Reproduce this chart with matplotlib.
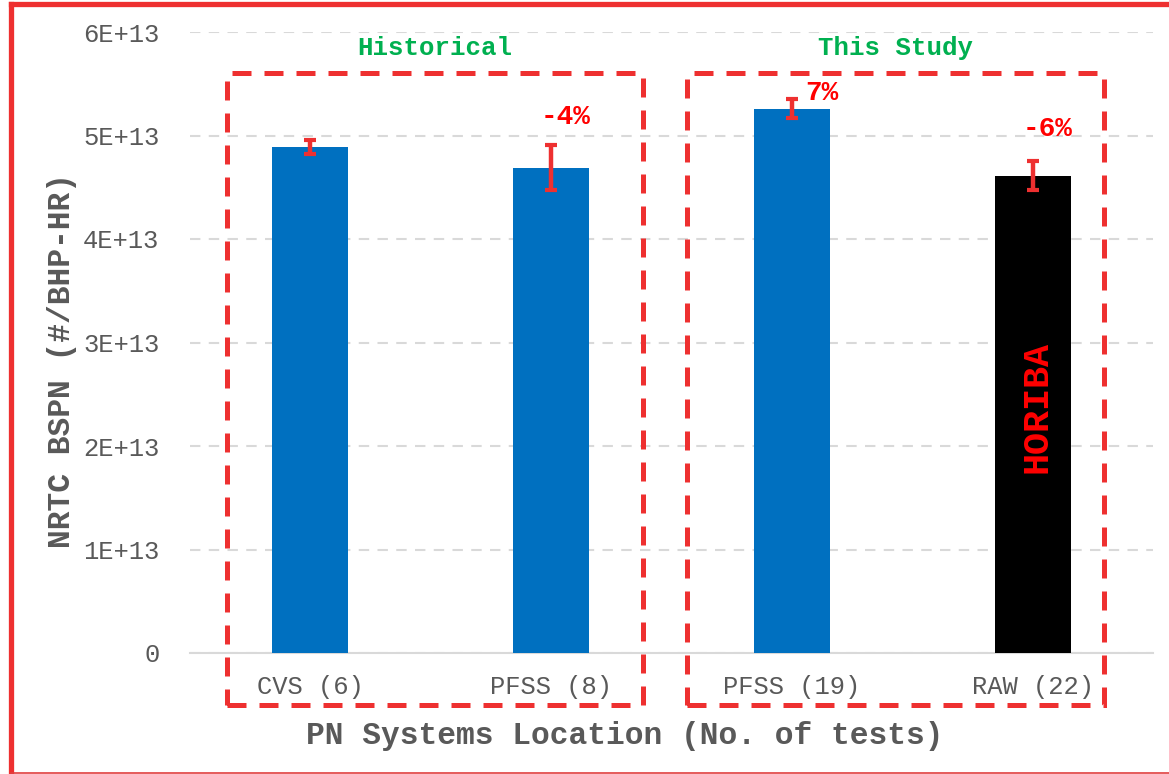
import matplotlib
matplotlib.use('Agg')
import matplotlib.pyplot as plt
from matplotlib.patches import Rectangle
from matplotlib.lines import Line2D
from matplotlib.ticker import FuncFormatter

plt.rcParams['font.family'] = ['Liberation Mono', 'DejaVu Sans Mono']

categories = ['CVS (6)', 'PFSS (8)', 'PFSS (19)', 'RAW (22)']
bspn = [4.89e13, 4.69e13, 5.26e13, 4.61e13]
err = [0.07e13, 0.22e13, 0.09e13, 0.14e13]
bar_colors = ['#0070C0', '#0070C0', '#0070C0', '#000000']
pct_labels = ['', '-4%', '7%', '-6%']
groups = ['Historical', 'This Study']

W, H = 1169, 774
fig = plt.figure(figsize=(W / 100, H / 100), dpi=100)
ax = fig.add_axes([190 / W, 1 - 653 / H, (1153 - 190) / W, (653 - 32) / H])

x = range(len(categories))
ax.bar(x, bspn, width=0.316, color=bar_colors, zorder=3)
ax.errorbar(x, bspn, yerr=err, fmt='none', ecolor='#EE3030', elinewidth=3.2,
            capsize=4.5, capthick=3, zorder=4)

ax.set_xlim(-0.5, 3.5)
ax.set_ylim(0, 6e13)
ax.set_yticks([i * 1e13 for i in range(7)])
ax.yaxis.set_major_formatter(FuncFormatter(lambda v, p: '0' if v == 0 else '%dE+13' % round(v / 1e13)))
ax.set_xticks(list(x))
ax.set_xticklabels(categories)
ax.tick_params(axis='both', length=0, labelsize=18.4, labelcolor='#595959')
ax.tick_params(axis='y', pad=22)
ax.tick_params(axis='x', pad=16)
for s in ['top', 'right', 'left']:
    ax.spines[s].set_visible(False)
ax.spines['bottom'].set_color('#D9D9D9')
ax.spines['bottom'].set_linewidth(1.5)
ax.yaxis.grid(True, color='#D9D9D9', linestyle=(0, (5, 4)), linewidth=1.5, zorder=0)
ax.set_axisbelow(True)

# percent change labels
offsets = [(0, 0), (0.06, 0.27e13), (0.125, 0.06e13), (0.06, 0.31e13)]
for i, lab in enumerate(pct_labels):
    if lab:
        ax.text(i + offsets[i][0], bspn[i] + err[i] + offsets[i][1], lab, ha='center', va='center',
                color='#FF0000', fontsize=20, fontweight='bold')

ax.text(3.02, 2.38e13, 'HORIBA', rotation=90, ha='center', va='center',
        color='#FF0000', fontsize=26.5, fontweight='bold', zorder=5)

# dashed group boxes
boxes = [(-0.346, 1.382), (1.564, 3.296)]
for (x0, x1), g in zip(boxes, groups):
    ax.add_patch(Rectangle((x0, -0.502e13), x1 - x0, 6.106e13, fill=False, edgecolor='#EE3030',
                           linewidth=3.6, linestyle=(0, (3.8, 2.6)), clip_on=False, zorder=6))
    ax.text((x0 + x1) / 2, 5.845e13, g, ha='center', va='center',
            color='#00B050', fontsize=18.5, fontweight='bold')

fig.text(625 / W, 1 - 736 / H, 'PN Systems Location (No. of tests)', ha='center', va='center',
         fontsize=22.5, fontweight='bold', color='#595959')
fig.text(62 / W, 1 - 360 / H, 'NRTC BSPN (#/BHP-HR)', ha='center', va='center', rotation=90,
         fontsize=22.5, fontweight='bold', color='#595959')

# outer red frame
fig.add_artist(Line2D([10.5 / W, 10.5 / W], [0, 1 - 3.5 / H], color='#EE3030', linewidth=3.8,
                      transform=fig.transFigure, solid_capstyle='projecting'))
fig.add_artist(Line2D([10.5 / W, 1], [1 - 3.5 / H, 1 - 3.5 / H], color='#EE3030', linewidth=3.8,
                      transform=fig.transFigure, solid_capstyle='projecting'))
fig.add_artist(Line2D([10.5 / W, 1], [0.7 / H, 0.7 / H], color='#E04040', linewidth=1.2,
                      transform=fig.transFigure))

fig.savefig('out.png', dpi=100)
